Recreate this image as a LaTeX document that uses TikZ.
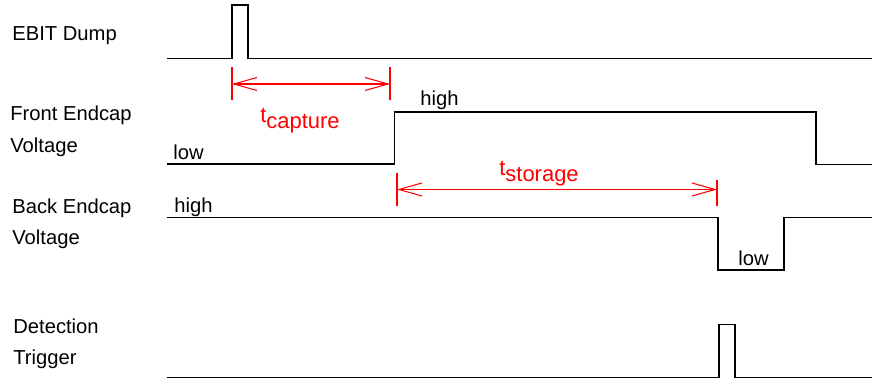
\documentclass[tikz,border=0pt]{standalone}
\usepackage{fontspec}
\setmainfont{Liberation Sans}
\usetikzlibrary{arrows.meta}
\newcommand{\lowtxt}[2]{#1\raisebox{-.45ex}{#2}}
\tikzset{sig/.style={line width=1.1pt,line join=miter},
 lab/.style={anchor=base west,inner sep=0pt,font=\fontsize{11.5}{13}\selectfont},
 lvl/.style={anchor=base west,inner sep=0pt,font=\fontsize{11.5}{13}\selectfont},
 tick/.style={red,line width=.6pt},
 span/.style={red,line width=.6pt,{Straight Barb[length=4.6mm,width=2.6mm]}-{Straight Barb[length=4.6mm,width=2.6mm]}},
 dt/.style={red,anchor=base,inner sep=0pt,font=\fontsize{12.5}{14}\selectfont}}
\begin{document}
\begin{tikzpicture}[x=.02cm,y=-.02cm]
\useasboundingbox (0,0) rectangle (872,381);
% signal names
\node[lab](n1) at (12,41){EBIT Dump};
\node[lab](n2) at (10,121){Front Endcap};\node[lab](n3) at (10,153){Voltage};
\node[lab](n4) at (12,214){Back Endcap};\node[lab](n5) at (12,245){Voltage};
\node[lab](n6) at (13,334){Detection};\node[lab](n7) at (13,365){Trigger};
% traces
\draw[sig](167,58.5)--(232,58.5)--(232,5)--(248,5)--(248,58.5)--(872,58.5);
\draw[sig](167,164)--(394.5,164)--(394.5,112)--(816,112)--(816,164.5)--(872,164.5);
\draw[sig](167,217.5)--(718,217.5)--(718,270)--(784,270)--(784,217.5)--(872,217.5);
\draw[sig](167,377.5)--(719,377.5)--(719,324.5)--(735,324.5)--(735,377.5)--(872,377.5);
% levels
\node[lvl](hi1) at (420,106){high};\node[lvl](lo1) at (173,160){low};
\node[lvl](hi2) at (174,213){high};\node[lvl](lo2) at (738,266){low};
% time spans
\coordinate(c1) at (232,67);\coordinate(c2) at (390,67);
\coordinate(c3) at (232,84);\coordinate(c4) at (390,84);
\draw[tick](c1)--++(0,33);\draw[tick](c2)--++(0,33);
\draw[span](c3)--(c4);
\node[dt](tc) at (300,123){\lowtxt{t}{capture}};
\coordinate(s1) at (397,173);\coordinate(s2) at (717,180);
\coordinate(s3) at (397,189.5);\coordinate(s4) at (717,189.5);
\draw[tick](s1)--++(0,33);\draw[tick](s2)--++(0,26);
\draw[span](s3)--(s4);
\node[dt](ts) at (539,176){\lowtxt{t}{storage}};
\end{tikzpicture}
\end{document}
